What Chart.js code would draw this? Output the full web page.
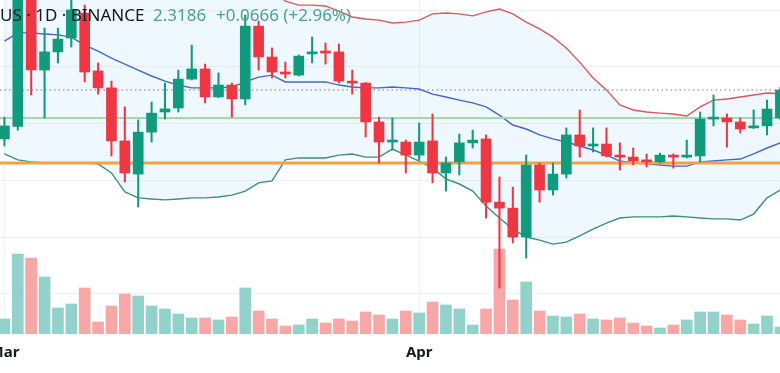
<!DOCTYPE html>
<html><head><meta charset="utf-8">
<script src="https://cdn.jsdelivr.net/npm/chart.js@4.4.1/dist/chart.umd.min.js"></script>
<style>
html,body{margin:0;padding:0;background:#fff;}
#wrap{position:relative;width:780px;height:373px;overflow:hidden;}
#c{position:absolute;left:0;top:0;}
.hdr{position:absolute;top:5px;font-family:"Noto Sans",sans-serif;font-size:17px;line-height:20px;white-space:nowrap;}
</style></head><body>
<div id="wrap"><canvas id="c" width="780" height="373"></canvas>
<div class="hdr" style="left:0;color:#131722">US · 1D · BINANCE</div>
<div class="hdr" style="left:153px;color:#4aa38c">2.3186</div>
<div class="hdr" style="left:216px;color:#4aa38c">+0.0666 (+2.96%)</div>
</div>
<script>
// daily candles, Mar 1 (index 0) .. Apr 28 (index 58)
const opens=[2.146,2.190,2.795,2.389,2.453,2.502,2.590,2.386,2.326,2.139,
 2.022,2.170,2.241,2.255,2.357,2.393,2.294,2.336,2.287,2.544,
 2.435,2.382,2.371,2.446,2.453,2.453,2.350,2.343,2.206,2.135,
 2.135,2.089,2.139,2.026,2.065,2.132,2.146,1.923,1.902,1.800,
 2.054,1.966,2.022,2.160,2.121,2.128,2.089,2.082,2.068,2.065,
 2.089,2.082,2.086,2.216,2.220,2.206,2.185,2.192,2.220];
const highs=[2.223,2.848,2.830,2.537,2.537,2.654,2.618,2.414,2.350,2.259,
 2.213,2.276,2.343,2.389,2.477,2.410,2.379,2.343,2.583,2.562,
 2.467,2.417,2.442,2.505,2.484,2.481,2.389,2.345,2.223,2.220,
 2.142,2.202,2.234,2.082,2.163,2.177,2.160,2.012,1.976,2.089,
 2.061,2.061,2.185,2.248,2.185,2.185,2.132,2.114,2.093,2.096,
 2.093,2.142,2.241,2.301,2.234,2.220,2.248,2.283,2.329];
const lows=[2.121,2.177,2.301,2.220,2.414,2.470,2.347,2.304,2.086,1.994,
 1.906,2.135,2.216,2.241,2.354,2.273,2.292,2.223,2.266,2.389,
 2.361,2.361,2.368,2.414,2.410,2.343,2.304,2.153,2.061,2.107,
 2.026,2.072,1.991,1.962,2.019,2.114,1.867,1.620,1.779,1.726,
 1.923,1.948,2.008,2.082,2.100,2.082,2.036,2.054,2.047,2.061,
 2.043,2.079,2.065,2.192,2.117,2.167,2.183,2.160,2.213];
const closes=[2.192,2.795,2.389,2.453,2.498,2.601,2.382,2.326,2.139,2.026,
 2.170,2.237,2.252,2.357,2.393,2.294,2.336,2.287,2.544,2.435,
 2.382,2.375,2.438,2.453,2.449,2.350,2.343,2.206,2.135,2.142,
 2.089,2.135,2.026,2.061,2.132,2.142,1.923,1.902,1.800,2.054,
 1.966,2.022,2.160,2.121,2.128,2.086,2.082,2.068,2.065,2.089,
 2.082,2.086,2.216,2.223,2.206,2.181,2.192,2.2515,2.3186];
const volumes=[60,320,304,228,104,120,184,48,112,160,
 152,112,100,80,64,64,56,68,184,92,
 60,32,36,60,44,60,52,88,76,60,
 92,84,128,116,100,36,100,340,136,208,
 92,72,68,80,60,56,64,44,32,24,
 36,56,88,88,76,56,40,72,28];
const bbUpper=[2.700,2.950,3.020,3.030,3.020,3.040,3.020,3.000,2.990,3.000,
 2.980,2.960,2.930,2.900,2.860,2.820,2.780,2.750,2.740,2.700,
 2.670,2.632,2.618,2.618,2.615,2.597,2.576,2.569,2.565,2.555,
 2.558,2.565,2.587,2.590,2.587,2.580,2.594,2.604,2.587,2.558,
 2.534,2.505,2.467,2.417,2.361,2.319,2.266,2.248,2.241,2.237,
 2.234,2.227,2.259,2.283,2.287,2.294,2.301,2.308,2.305];
const bbBasis=[2.491,2.520,2.520,2.516,2.513,2.505,2.477,2.456,2.431,2.410,
 2.389,2.368,2.350,2.336,2.326,2.326,2.326,2.329,2.347,2.364,
 2.371,2.347,2.347,2.347,2.347,2.336,2.329,2.326,2.326,2.329,
 2.326,2.322,2.304,2.294,2.283,2.273,2.259,2.230,2.195,2.181,
 2.160,2.146,2.135,2.121,2.107,2.089,2.068,2.061,2.058,2.054,
 2.050,2.050,2.065,2.068,2.072,2.075,2.093,2.114,2.132];
const bbLower=[2.093,2.072,2.065,2.061,2.061,2.061,2.061,2.058,2.026,1.959,
 1.938,1.934,1.931,1.934,1.938,1.938,1.941,1.948,1.962,1.991,
 1.998,2.072,2.079,2.079,2.079,2.089,2.093,2.082,2.082,2.110,
 2.089,2.068,2.043,2.005,1.987,1.962,1.909,1.867,1.828,1.800,
 1.789,1.775,1.782,1.804,1.828,1.849,1.867,1.871,1.871,1.871,
 1.874,1.871,1.867,1.864,1.864,1.860,1.881,1.938,1.966];
const tickLabels=['Mar','Apr'];
const tickDays=[0,31];
const gridLevels=[1.6,1.8,2.0,2.2,2.4,2.6];
const resistanceLevel=2.220;
const supportLevel=2.061;
const lastPrice=2.3186;

const priceMin=1.458, priceMax=2.636, volMax=1336;
const xMin=-0.33, xMax=57.97;

const days=closes.map((_,i)=>i);
const up=days.map(i=>closes[i]>=opens[i]);
const GREEN='#109a7e', RED='#ee3742';
const candleCol=up.map(u=>u?GREEN:RED);
const volCol=up.map(u=>u?'#93d2ca':'#f6a7a6');
const hline=v=>[{x:xMin,y:v},{x:xMax,y:v}];
const lineBase={type:'line',pointRadius:0,tension:0,yAxisID:'y',borderWidth:1.4};

new Chart(document.getElementById('c'),{
 data:{datasets:[
  {type:'bar',label:'bodies',data:days.map(i=>({x:i,y:[opens[i],closes[i]]})),backgroundColor:candleCol,barThickness:10,grouped:false,minBarLength:2,yAxisID:'y',order:0},
  {type:'bar',label:'wicks',data:days.map(i=>({x:i,y:[lows[i],highs[i]]})),backgroundColor:candleCol,barThickness:1.4,grouped:false,yAxisID:'y',order:1},
  {type:'bar',label:'volume',data:days.map(i=>({x:i,y:volumes[i]})),backgroundColor:volCol,barThickness:11,grouped:false,yAxisID:'yv',order:20},
  {...lineBase,label:'upper',data:days.map(i=>({x:i,y:bbUpper[i]})),borderColor:'#d9595c',fill:{target:5},backgroundColor:'rgba(33,150,243,0.07)',order:6},
  {...lineBase,label:'basis',data:days.map(i=>({x:i,y:bbBasis[i]})),borderColor:'#4467c9',order:6},
  {...lineBase,label:'lower',data:days.map(i=>({x:i,y:bbLower[i]})),borderColor:'#3d8f78',order:6},
  {...lineBase,label:'resistance',data:hline(resistanceLevel),borderColor:'#a8d8a8',borderWidth:2,order:4},
  {...lineBase,label:'support',data:hline(supportLevel),borderColor:'#f2a244',borderWidth:3,order:4},
  {...lineBase,label:'last',data:hline(lastPrice),borderColor:'#6f7a90',borderWidth:1,borderDash:[1.5,3],order:4}
 ]},
 options:{
  responsive:false,animation:false,devicePixelRatio:1,
  layout:{padding:0},
  plugins:{legend:{display:false},tooltip:{enabled:false},filler:{drawTime:'beforeDatasetsDraw'}},
  scales:{
   x:{type:'linear',min:xMin,max:xMax,offset:false,bounds:'data',
      afterBuildTicks:s=>{s.ticks=tickDays.map(v=>({value:v}));},
      afterFit:s=>{s.height=39;s.paddingLeft=0;s.paddingRight=0;},
      grid:{color:'#eef0f3',drawTicks:false,offset:false},border:{display:false},
      ticks:{autoSkip:false,maxRotation:0,padding:10,color:'#131722',
        font:{family:'Noto Sans',size:15,weight:'bold'},
        callback:(v,i)=>tickLabels[i]}},
   y:{type:'linear',position:'left',min:priceMin,max:priceMax,
      afterBuildTicks:s=>{s.ticks=gridLevels.map(v=>({value:v}));},
      afterFit:s=>{s.width=0;},
      grid:{color:'#eef0f3',drawTicks:false},border:{display:false},
      ticks:{display:false}},
   yv:{type:'linear',display:false,min:0,max:volMax}
  }
 }
});
</script>
</body></html>
